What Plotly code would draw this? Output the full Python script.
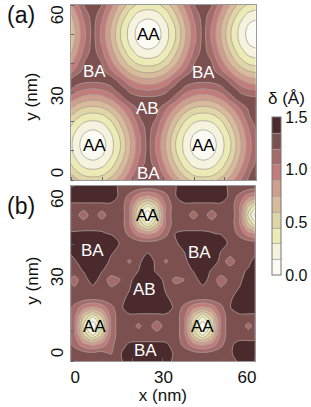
import plotly.graph_objects as go

x_nm = [-2, 1, 4, 7, 10, 13, 16, 19, 22, 25, 28, 31, 34, 37, 40, 43, 46, 49, 52, 55, 58, 61]
y_nm = [-0.68, 2.49, 5.66, 8.83, 12, 15.17, 18.34, 21.51, 24.68, 27.85, 31.02, 34.19,
        37.36, 40.53, 43.7, 46.87, 50.04, 53.21, 56.38, 59.55, 62.72]

delta_a = [
 [.87,.70,.59,.56,.59,.70,.87,1.07,1.25,1.3,1.25,1.07,.87,.70,.59,.56,.59,.70,.87,1.07,1.25,1.3],
 [.70,.51,.39,.36,.39,.51,.70,.93,1.19,1.3,1.19,.93,.70,.51,.39,.36,.39,.51,.70,.93,1.19,1.3],
 [.58,.37,.24,.20,.24,.37,.58,.82,1.09,1.28,1.09,.82,.58,.37,.24,.20,.24,.37,.58,.82,1.09,1.28],
 [.48,.28,.13,.06,.13,.28,.48,.75,1.02,1.27,1.02,.75,.48,.28,.13,.06,.13,.28,.48,.75,1.02,1.27],
 [.45,.25,.08,0,.08,.25,.45,.72,1.0,1.26,1.0,.72,.45,.25,.08,0,.08,.25,.45,.72,1.0,1.26],
 [.48,.28,.13,.06,.13,.28,.48,.75,1.02,1.27,1.02,.75,.48,.28,.13,.06,.13,.28,.48,.75,1.02,1.27],
 [.58,.37,.24,.20,.24,.37,.58,.82,1.09,1.28,1.09,.82,.58,.37,.24,.20,.24,.37,.58,.82,1.09,1.28],
 [.70,.51,.39,.36,.39,.51,.70,.93,1.19,1.3,1.19,.93,.70,.51,.39,.36,.39,.51,.70,.93,1.19,1.3],
 [.87,.70,.59,.56,.59,.70,.87,1.07,1.25,1.3,1.25,1.07,.87,.70,.59,.56,.59,.70,.87,1.07,1.25,1.4],
 [1.12,.92,.82,.79,.82,.92,1.12,1.3,1.26,1.25,1.26,1.3,1.12,.92,.82,.79,.82,.92,1.12,1.3,1.26,1.25],
 [1.3,1.15,1.06,1.03,1.06,1.15,1.3,1.15,1.06,1.03,1.06,1.15,1.3,1.15,1.06,1.03,1.06,1.15,1.3,1.15,1.06,1.03],
 [1.12,1.3,1.26,1.25,1.26,1.3,1.12,.92,.82,.79,.82,.92,1.12,1.3,1.26,1.25,1.26,1.3,1.12,.92,.82,.79],
 [.87,1.07,1.25,1.3,1.25,1.07,.87,.70,.59,.56,.59,.70,.87,1.07,1.25,1.3,1.25,1.07,.87,.70,.59,.56],
 [.70,.93,1.19,1.3,1.19,.93,.70,.51,.39,.36,.39,.51,.70,.93,1.19,1.3,1.19,.93,.70,.51,.39,.36],
 [.58,.82,1.09,1.28,1.09,.82,.58,.37,.24,.20,.24,.37,.58,.82,1.09,1.28,1.09,.82,.58,.37,.24,.20],
 [.48,.75,1.02,1.27,1.02,.75,.48,.28,.13,.06,.13,.28,.48,.75,1.02,1.27,1.02,.75,.48,.28,.13,.06],
 [.45,.72,1.0,1.26,1.0,.72,.45,.25,.08,0,.08,.25,.45,.72,1.0,1.26,1.0,.72,.45,.25,.08,0],
 [.48,.75,1.02,1.27,1.02,.75,.48,.28,.13,.06,.13,.28,.48,.75,1.02,1.27,1.02,.75,.48,.28,.13,.06],
 [.58,.82,1.09,1.28,1.09,.82,.58,.37,.24,.20,.24,.37,.58,.82,1.09,1.28,1.09,.82,.58,.37,.24,.20],
 [.70,.93,1.19,1.3,1.19,.93,.70,.51,.39,.36,.39,.51,.70,.93,1.19,1.3,1.19,.93,.70,.51,.39,.36],
 [.87,1.07,1.25,1.3,1.25,1.07,.87,.70,.59,.56,.59,.70,.87,1.07,1.25,1.3,1.25,1.07,.87,.70,.59,.56],
]

delta_b = [
 [1.28,1.28,1.28,1.28,1.28,1.28,1.28,1.5,1.5,1.5,1.5,1.42,1.28,1.28,1.28,1.28,1.28,1.28,1.28,1.36,1.5,1.5],
 [1.28,1.28,1.28,1.26,1.28,1.19,1.33,1.5,1.5,1.5,1.5,1.5,1.3,1.28,1.28,1.26,1.28,1.28,1.3,1.5,1.5,1.5],
 [1.29,1.16,.95,.85,.95,1.16,1.29,1.37,1.38,1.38,1.38,1.37,1.29,1.16,.95,.85,.95,1.16,1.32,1.4,1.4,1.4],
 [1.29,1.1,.6,.3,.6,1.1,1.29,1.28,1.28,1.28,1.28,1.28,1.29,1.1,.6,.3,.6,1.1,1.29,1.28,1.28,1.28],
 [1.3,1.1,.4,0,.4,1.1,1.3,1.28,1.17,1.28,1.1,1.28,1.3,1.1,.4,0,.4,1.1,1.3,1.28,1.16,1.28],
 [1.29,1.1,.6,.3,.6,1.1,1.29,1.28,1.28,1.28,1.28,1.28,1.29,1.1,.6,.3,.6,1.1,1.29,1.28,1.28,1.28],
 [1.29,1.16,.95,.85,.95,1.16,1.29,1.5,1.5,1.5,1.5,1.5,1.29,1.16,.95,.85,.95,1.16,1.34,1.5,1.5,1.5],
 [1.28,1.28,1.28,1.26,1.28,1.28,1.28,1.4,1.5,1.5,1.5,1.38,1.28,1.28,1.28,1.26,1.28,1.28,1.3,1.5,1.5,1.5],
 [1.28,1.22,1.28,1.3,1.28,1.22,1.26,1.34,1.5,1.5,1.5,1.32,1.24,1.26,1.28,1.3,1.28,1.22,1.28,1.36,1.5,1.5],
 [1.28,1.14,1.28,1.42,1.28,1.14,1.2,1.28,1.5,1.5,1.45,1.28,1.17,1.2,1.28,1.42,1.28,1.13,1.24,1.28,1.5,1.5],
 [1.28,1.28,1.36,1.5,1.36,1.28,1.28,1.28,1.35,1.5,1.3,1.28,1.28,1.28,1.36,1.5,1.32,1.28,1.28,1.28,1.38,1.5],
 [1.28,1.31,1.5,1.5,1.5,1.3,1.28,1.18,1.28,1.5,1.28,1.18,1.28,1.28,1.5,1.5,1.5,1.28,1.12,1.28,1.28,1.5],
 [1.3,1.45,1.5,1.5,1.5,1.38,1.28,1.28,1.28,1.33,1.28,1.28,1.28,1.35,1.5,1.5,1.5,1.34,1.28,1.28,1.28,1.33],
 [1.5,1.5,1.5,1.5,1.5,1.5,1.33,1.28,1.28,1.26,1.28,1.28,1.3,1.5,1.5,1.5,1.5,1.5,1.28,1.28,1.28,1.26],
 [1.36,1.37,1.38,1.38,1.37,1.33,1.29,1.16,.95,.85,.95,1.16,1.35,1.38,1.38,1.38,1.36,1.33,1.29,1.16,.95,.85],
 [1.28,1.28,1.28,1.28,1.28,1.28,1.29,1.08,.6,.3,.6,1.08,1.29,1.28,1.28,1.28,1.28,1.28,1.29,1.08,.6,.3],
 [1.28,1.28,1.12,1.28,1.14,1.28,1.29,1.1,.4,0,.4,1.1,1.29,1.28,1.14,1.28,1.12,1.28,1.29,1.1,.4,0],
 [1.28,1.28,1.28,1.28,1.28,1.28,1.29,1.08,.6,.3,.6,1.08,1.29,1.28,1.28,1.28,1.28,1.28,1.29,1.08,.6,.3],
 [1.5,1.5,1.5,1.5,1.5,1.5,1.29,1.16,.95,.85,.95,1.16,1.33,1.5,1.5,1.5,1.5,1.5,1.29,1.16,.95,.85],
 [1.5,1.5,1.5,1.5,1.5,1.5,1.28,1.28,1.28,1.26,1.28,1.28,1.33,1.5,1.5,1.5,1.5,1.5,1.28,1.28,1.28,1.26],
 [1.5,1.5,1.5,1.5,1.5,1.5,1.28,1.28,1.28,1.28,1.28,1.28,1.33,1.5,1.5,1.5,1.5,1.5,1.28,1.28,1.28,1.28],
]

band_colors = ["#fbfbf3", "#f5f3dd", "#ecebb5", "#e0d5a6", "#d9bb9c",
               "#cf9f8e", "#c27c7c", "#a56a6a", "#7d5050", "#4a2a2c"]
cbar_ticks = [0, 0.5, 1.0, 1.5]
cbar_labels = ["0.0", "0.5", "1.0", "1.5"]

labels_a = [("AA", 7.5, 12, "black"), ("AA", 43, 12, "black"), ("AA", 25, 50, "black"),
            ("BA", 7.5, 37.3, "white"), ("BA", 43, 36.7, "white"),
            ("AB", 24.9, 24.6, "white"), ("BA", 25, 2.3, "white")]
labels_b = [("AA", 25, 50, "black"), ("AA", 7.5, 11.8, "black"), ("AA", 43, 11.8, "black"),
            ("BA", 7, 37.8, "white"), ("BA", 42, 37.2, "white"),
            ("AB", 24, 24.5, "white"), ("BA", 24.4, 3.5, "white")]

W, H = 311, 407
FONT = "Liberation Sans, Arial, sans-serif"
GRAY = "#9a9a9a"
scale = []
n = len(band_colors)
for i, c in enumerate(band_colors):
    scale += [[i / n, c], [(i + 1) / n, c]]


def px_x(p):
    return p / W


def px_y(p):
    return 1 - p / H


fig = go.Figure()
for z, xa, ya, show, smooth in [(delta_a, "x", "y", True, 1.3), (delta_b, "x2", "y2", False, 0.85)]:
    fig.add_trace(go.Contour(
        x=x_nm, y=y_nm, z=z, xaxis=xa, yaxis=ya, zmin=0, zmax=1.5, zauto=False, colorscale=scale,
        autocontour=False, showscale=show,
        contours=dict(coloring="fill", start=0.15, end=1.35, size=0.15),
        line=dict(color="#a8a098", width=0.8, smoothing=smooth),
        colorbar=dict(lenmode="pixels", len=158, thicknessmode="pixels", thickness=9,
                      x=px_x(274), xanchor="left", y=px_y(196), yanchor="middle",
                      xpad=0, ypad=0, outlinecolor="#777", outlinewidth=1,
                      tickmode="array", tickvals=cbar_ticks, ticktext=cbar_labels,
                      ticks="", tickfont=dict(size=16, family=FONT, color="#111")),
        hoverinfo="skip",
    ))


def xaxis(domain, anchor, labels, title=None):
    return dict(domain=domain, anchor=anchor, range=[0, 60], tickmode="array",
                tickvals=[1.3, 30.2, 57.5] if labels else [], ticktext=["0", "30", "60"] if labels else [],
                ticks="", showgrid=False, zeroline=False, showline=True, linecolor=GRAY,
                linewidth=1.2, mirror=True, tickfont=dict(size=17, family=FONT, color="#111"),
                minor=dict(ticks="inside", dtick=10, tick0=0, ticklen=3, tickcolor="#666", tickwidth=1, showgrid=False),
                title=dict(text=title, standoff=1, font=dict(size=17, family=FONT, color="#111")) if title else None)


def yaxis(domain, anchor, vals):
    return dict(domain=domain, anchor=anchor, range=[0, 60], tickmode="array",
                tickvals=vals, ticktext=["0", "30", "60"], tickangle=-90,
                ticks="", showgrid=False, zeroline=False, showline=True, linecolor=GRAY,
                linewidth=1.2, mirror=True, tickfont=dict(size=17, family=FONT, color="#111"),
                minor=dict(ticks="inside", dtick=10, tick0=0, ticklen=3, tickcolor="#666", tickwidth=1, showgrid=False))


ann = []
for items, xr, yr in [(labels_a, "x", "y"), (labels_b, "x2", "y2")]:
    for t, ax, ay, col in items:
        ann.append(dict(text=t, x=ax, y=ay, xref=xr, yref=yr, showarrow=False,
                        font=dict(size=17, family=FONT, color=col)))
for t, px, py, sz, ang in [("(a)", 20, 15, 23, 0), ("(b)", 20, 206, 23, 0),
                           ("y (nm)", 30, 97, 17, -90), ("y (nm)", 31, 281, 17, -90),
                           ("δ (Å)", 288, 98, 17, 0)]:
    ann.append(dict(text=t, x=px_x(px), y=px_y(py), xref="paper", yref="paper", showarrow=False,
                    xanchor="center", yanchor="middle",
                    textangle=ang, font=dict(size=sz, family=FONT, color="#111")))

fig.update_layout(
    width=W, height=H, margin=dict(l=0, r=0, t=0, b=0), autosize=False,
    paper_bgcolor="white", plot_bgcolor="white", showlegend=False,
    xaxis=xaxis([px_x(71), px_x(257)], "y", False),
    yaxis=yaxis([px_y(180), px_y(5)], "x", [1.7, 28, 55.8]),
    xaxis2=xaxis([px_x(71), px_x(256)], "y2", True, "x (nm)"),
    yaxis2=yaxis([px_y(361), px_y(186)], "x2", [2, 28, 54.8]),
    annotations=ann,
)
fig.write_html("out.html", config={"displayModeBar": False},
               post_script="document.body.style.margin='0';document.documentElement.style.overflow='hidden';")
